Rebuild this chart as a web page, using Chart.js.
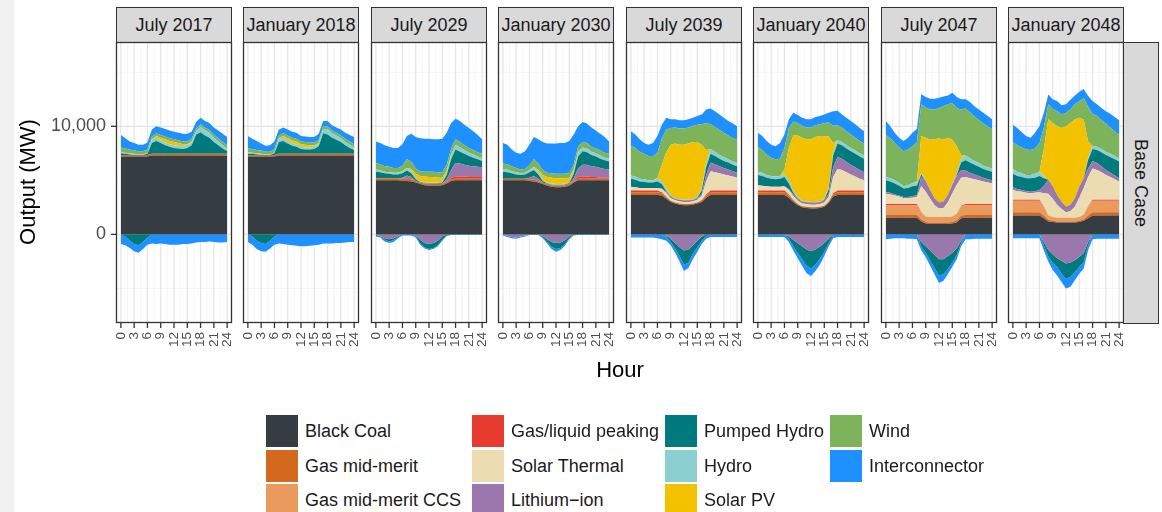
<!DOCTYPE html>
<html>
<head>
<meta charset="utf-8">
<script src="https://cdn.jsdelivr.net/npm/chart.js@4.4.1/dist/chart.umd.min.js"></script>
<style>
body { margin: 0; width: 1162px; height: 512px; background: #fff; position: relative; overflow: hidden;
  font-family: "Liberation Sans", Arial, sans-serif; }
#band { position: absolute; left: 0; top: 0; width: 14px; height: 512px; background: #f1f1f1; }
canvas { position: absolute; }
.strip { position: absolute; top: 7px; height: 36px; width: 116px; box-sizing: border-box; border: 1px solid #333;
  background: #d9d9d9; color: #1a1a1a; font-size: 18px; line-height: 34px; text-align: center; white-space: nowrap; }
.rstrip { position: absolute; left: 1123px; top: 42px; width: 36px; height: 282px; box-sizing: border-box;
  border: 1px solid #333; background: #d9d9d9; color: #1a1a1a; font-size: 18px; writing-mode: vertical-rl;
  text-align: center; line-height: 34px; }
.ytitle { position: absolute; left: -72px; top: 169px; width: 200px; text-align: center; font-size: 22px;
  line-height: 26px; transform: rotate(-90deg); color: #000; }
.xtitle { position: absolute; left: 520px; top: 357px; width: 200px; text-align: center; font-size: 22px;
  line-height: 26px; color: #000; }
.key { position: absolute; width: 32px; height: 32px; }
.ltext { position: absolute; font-size: 18px; line-height: 32px; color: #1a1a1a; white-space: nowrap; }
</style>
</head>
<body>
<div id="band"></div>
<script>
// hours of the day and axis ticks
const hours = [0,1,2,3,4,5,6,7,8,9,10,11,12,13,14,15,16,17,18,19,20,21,22,23,24];
const hourTicks = [0,3,6,9,12,15,18,21,24];
const outputTicks = [0, 10000];
const outputTickLabels = ['0', '10,000'];

const panels = ['July 2017','January 2018','July 2029','January 2030','July 2039','January 2040','July 2047','January 2048'];
const scenario = 'Base Case';

const fuels = ['Black Coal','Gas mid-merit','Gas mid-merit CCS','Gas/liquid peaking','Solar Thermal',
  'Lithium\u2212ion','Pumped Hydro','Hydro','Solar PV','Wind','Interconnector'];
const fuelColors = ['#353c42','#d2691e','#ea9a5d','#e63b2e','#ecdcb1','#9a78ae','#007a7d','#8ccfd0','#f2c200','#7db35b','#1e90ff'];

// MW by hour, one row per panel (same order as panels)
const blackCoal = [
  [7200,7200,7200,7200,7200,7200,7200,7300,7300,7300,7300,7300,7300,7300,7300,7300,7300,7300,7300,7300,7300,7300,7300,7300,7300],
  [7200,7200,7200,7200,7200,7200,7200,7300,7300,7300,7300,7300,7300,7300,7300,7300,7300,7300,7300,7300,7300,7300,7300,7300,7300],
  [5000,5000,5000,5000,5000,5000,4950,4950,4900,4800,4650,4550,4500,4500,4500,4550,4700,4950,5000,5000,5000,5000,5000,5000,5000],
  [5000,5000,5000,5000,5000,5000,4950,4900,4800,4650,4500,4400,4350,4350,4400,4500,4800,5000,5000,5000,5000,5000,5000,5000,5000],
  [3650,3650,3650,3650,3650,3650,3650,3600,3300,3000,2850,2750,2700,2700,2750,2850,3000,3400,3650,3650,3650,3650,3650,3650,3650],
  [3650,3650,3650,3650,3650,3650,3650,3400,3000,2700,2500,2450,2400,2400,2450,2550,2900,3500,3650,3650,3650,3650,3650,3650,3650],
  [1550,1550,1550,1550,1550,1550,1550,1550,1200,1000,950,950,950,950,950,1000,1100,1500,1550,1550,1550,1550,1550,1550,1550],
  [1750,1750,1750,1750,1750,1750,1750,1500,1200,1150,1100,1100,1100,1100,1100,1150,1250,1500,1750,1750,1750,1750,1750,1750,1750]
];
const gasMidMerit = [
  [150,150,150,150,150,150,150,150,150,150,150,150,150,150,150,150,150,150,150,150,150,150,150,150,150],
  [150,150,150,150,150,150,150,150,150,150,150,150,150,150,150,150,150,150,150,150,150,150,150,150,150],
  [200,200,200,200,200,200,200,200,200,150,150,150,150,150,150,150,150,150,150,150,150,150,150,150,150],
  [150,150,150,150,150,150,150,150,150,150,150,150,150,150,150,150,150,150,150,150,150,150,150,150,150],
  [250,250,250,250,250,250,250,200,150,100,100,100,100,100,100,100,150,200,250,250,250,250,250,250,250],
  [250,250,250,250,250,250,250,200,150,100,100,100,100,100,100,100,150,200,250,250,250,250,250,250,250],
  [250,250,250,250,250,250,250,250,200,150,150,150,150,150,150,150,200,250,250,250,250,250,250,250,250],
  [300,300,300,300,300,300,300,250,150,100,100,100,100,100,100,100,150,250,300,300,300,300,300,300,300]
];
const gasMidMeritCCS = [
  [0,0,0,0,0,0,0,0,0,0,0,0,0,0,0,0,0,0,0,0,0,0,0,0,0],
  [0,0,0,0,0,0,0,0,0,0,0,0,0,0,0,0,0,0,0,0,0,0,0,0,0],
  [0,0,0,0,0,0,0,0,0,0,0,0,0,0,0,0,0,0,0,0,0,0,0,0,0],
  [0,0,0,0,0,0,0,0,0,0,0,0,0,0,0,0,0,0,0,0,0,0,0,0,0],
  [0,0,0,0,0,0,0,0,0,0,0,0,0,0,0,0,0,0,0,0,0,0,0,0,0],
  [0,0,0,0,0,0,0,0,0,0,0,0,0,0,0,0,0,0,0,0,0,0,0,0,0],
  [900,900,900,900,900,900,900,900,600,500,500,500,500,500,500,500,600,850,900,900,900,900,900,900,900],
  [1050,1050,1050,1050,1050,1050,1050,800,400,350,350,350,350,350,350,350,450,800,1050,1050,1050,1050,1050,1050,1050]
];
const gasLiquidPeaking = [
  [0,0,0,0,0,0,0,0,0,0,0,0,0,0,0,0,0,0,0,0,0,0,0,0,0],
  [0,0,0,0,0,0,0,0,0,0,0,0,0,0,0,0,0,0,0,0,0,0,0,0,0],
  [0,0,0,0,0,0,0,0,0,0,0,0,0,0,0,0,50,150,200,200,200,150,150,150,150],
  [0,0,0,0,0,0,0,0,0,0,0,0,0,0,0,0,50,150,200,200,150,150,100,100,100],
  [150,150,150,150,150,150,150,100,50,0,0,0,0,0,0,0,0,100,150,150,150,150,150,150,150],
  [150,150,150,150,150,150,150,100,50,0,0,0,0,0,0,0,0,100,150,150,150,150,150,150,150],
  [100,100,100,100,100,100,100,100,50,0,0,0,0,0,0,0,0,50,100,100,100,100,100,100,100],
  [100,100,100,100,100,100,100,50,0,0,0,0,0,0,0,0,0,50,100,100,100,100,100,100,100]
];
const solarThermal = [
  [0,0,0,0,0,0,0,0,0,0,0,0,0,0,0,0,0,0,0,0,0,0,0,0,0],
  [0,0,0,0,0,0,0,0,0,0,0,0,0,0,0,0,0,0,0,0,0,0,0,0,0],
  [0,0,0,0,0,0,0,0,0,0,0,0,0,0,0,0,0,0,0,0,0,0,0,0,0],
  [0,0,0,0,0,0,0,0,0,0,0,0,0,0,0,0,0,0,0,0,0,0,0,0,0],
  [350,300,250,250,250,250,250,300,300,250,200,200,200,200,200,250,400,1200,1800,1700,1600,1500,1400,1300,1200],
  [500,450,400,350,350,350,400,400,350,300,250,250,250,250,250,300,400,1500,2000,1900,1700,1500,1300,1100,950],
  [950,900,800,700,550,550,600,650,2400,2300,1700,1100,800,850,1350,2150,2700,2600,2500,2400,2300,2200,2100,2000,1900],
  [900,800,750,650,600,650,700,1200,2000,1700,1200,800,500,600,1000,1800,2450,2700,2900,2750,2550,2300,2100,1900,1700]
];
const lithiumIon = [
  [0,0,0,0,0,0,0,0,0,0,0,0,0,0,0,0,0,0,0,0,0,0,0,0,0],
  [0,0,0,0,0,0,0,0,0,0,0,0,0,0,0,0,0,0,0,0,0,0,0,0,0],
  [0,0,0,0,0,0,100,300,200,0,0,0,0,0,0,0,200,700,1250,1200,1100,1050,1000,950,900],
  [0,0,0,0,0,0,150,350,200,0,0,0,0,0,0,0,200,800,1100,1100,1000,950,900,800,750],
  [0,0,0,0,0,0,0,50,100,150,150,150,150,150,150,150,200,600,800,750,650,600,550,500,450],
  [0,0,0,0,0,0,0,100,150,200,200,200,200,200,200,200,300,900,1100,1050,950,900,850,800,750],
  [150,150,100,100,100,100,150,150,900,1000,800,650,550,600,700,800,800,700,600,500,450,400,350,300,300],
  [250,200,150,150,150,150,200,700,1300,1150,900,700,500,600,800,1000,900,800,700,650,550,450,400,350,300]
];
const pumpedHydro = [
  [150,100,50,0,0,0,100,1000,1200,1000,800,650,550,500,450,550,800,1800,2000,1700,1500,1100,800,500,250],
  [100,100,50,0,0,0,150,1100,1200,950,750,650,450,400,400,450,700,1900,1800,1500,1300,1100,800,550,350],
  [600,550,450,400,350,350,400,450,350,150,50,50,50,50,50,100,400,1000,1250,1100,1000,900,800,700,600],
  [650,600,500,400,350,400,500,550,400,150,50,50,50,50,50,100,400,1100,1250,1150,1050,950,850,800,750],
  [750,700,600,550,500,500,600,400,100,50,0,0,0,0,0,50,300,700,800,750,700,650,650,600,600],
  [950,900,800,750,700,750,850,500,150,50,0,0,0,0,0,50,400,1100,1250,1250,1250,1250,1250,1250,1250],
  [1100,1050,1000,900,800,850,900,900,200,0,0,0,0,0,0,0,100,700,950,950,900,850,800,800,800],
  [1250,1200,1200,1200,1250,1250,1300,700,0,0,0,0,0,0,0,0,0,800,1100,1200,1300,1400,1450,1500,1550]
];
const hydro = [
  [150,100,100,100,50,50,100,300,300,250,250,250,250,250,250,250,300,300,500,500,450,400,350,300,250],
  [150,100,100,100,50,50,100,300,300,250,250,250,200,200,200,200,250,400,500,400,400,350,300,300,250],
  [200,200,150,150,150,150,200,200,200,150,100,100,100,100,100,100,200,400,450,400,350,300,300,250,250],
  [250,250,200,200,150,150,200,250,200,150,100,100,100,100,100,100,200,400,350,350,300,300,300,250,250],
  [300,300,250,250,200,200,250,300,200,100,50,50,50,50,50,100,200,400,450,400,350,350,300,300,300],
  [300,300,250,250,250,250,300,300,200,100,50,50,50,50,50,100,200,350,300,300,300,300,300,300,300],
  [300,300,300,250,200,250,300,300,100,50,0,0,0,0,0,50,150,400,450,400,350,350,300,300,300],
  [450,400,350,300,300,350,400,200,0,0,0,0,0,0,0,0,0,200,300,300,300,300,300,300,300]
];
const solarPV = [
  [0,0,0,0,0,0,0,50,150,250,300,300,300,250,200,100,50,0,0,0,0,0,0,0,0],
  [0,0,0,0,0,0,0,50,150,250,250,250,250,250,200,150,50,0,0,0,0,0,0,0,0],
  [0,0,0,0,0,0,0,50,200,350,450,500,500,500,450,350,200,50,0,0,0,0,0,0,0],
  [0,0,0,0,0,0,0,50,200,400,500,550,550,550,500,400,200,50,0,0,0,0,0,0,0],
  [0,0,0,0,0,0,100,1500,3400,4650,5050,5050,5100,5200,5300,5050,4050,1200,0,0,0,0,0,0,0],
  [0,0,0,0,0,0,400,3000,5100,5700,5850,5750,5800,6000,6050,5800,4700,800,0,0,0,0,0,0,0],
  [0,0,0,0,0,0,0,100,3450,3950,4650,5450,5950,5700,5300,4100,2500,300,0,0,0,0,0,0,0],
  [0,0,0,0,0,0,0,2500,5600,5850,6350,6800,7450,7550,7300,6400,5400,1500,0,0,0,0,0,0,0]
];
const wind = [
  [400,400,350,300,300,300,300,250,250,250,250,250,250,250,250,250,250,250,250,250,250,300,300,300,300],
  [350,350,300,300,250,250,300,250,250,250,250,250,250,250,250,250,250,250,250,250,250,250,300,300,300],
  [600,550,500,500,450,450,500,800,700,500,450,450,500,500,500,500,550,550,500,500,450,450,400,400,400],
  [500,500,450,400,350,350,450,700,600,450,400,400,400,400,400,400,450,500,500,500,450,450,450,450,450],
  [2750,2650,2500,2350,2250,2250,2300,2400,2100,1550,1500,1500,1500,1500,1500,1600,1900,2500,2300,2300,2300,2250,2200,2150,2150],
  [2300,2100,1900,1700,1600,1600,2000,1800,1300,1150,1100,1100,1100,1100,1100,1200,1300,1600,1400,1350,1300,1250,1200,1150,1100],
  [3900,3700,3450,3300,3250,3300,3400,3600,2950,2800,2800,2750,2800,3100,3100,3400,3550,4200,4350,4250,4100,4000,3900,3800,3600],
  [2500,2450,2400,2350,2300,2350,2600,2000,1400,1300,1400,1250,1250,1250,1400,1550,2000,3200,2950,2850,2700,2600,2450,2300,2150]
];
const interconnector = [
  [1150,950,750,700,600,600,650,650,650,700,700,700,700,700,700,700,650,600,600,600,650,650,700,750,750],
  [1150,950,850,650,550,600,700,550,550,550,550,550,500,500,500,500,600,500,500,500,500,550,550,600,650],
  [2000,1950,1950,1850,1850,1850,2000,2150,2550,2900,3050,3050,3050,3000,3050,3100,2950,2350,1900,1950,1900,1850,1750,1600,1350],
  [1900,1800,1550,1400,1450,1650,1900,2050,2250,2600,2700,2750,2800,2850,2850,3000,2800,1850,1850,1800,1800,1650,1550,1450,1150],
  [1350,1250,1150,1000,1050,1200,1550,1300,1100,800,750,750,750,750,750,800,900,1250,1450,1450,1450,1400,1350,1350,1250],
  [1300,1300,1250,1200,1200,1450,1250,850,800,750,750,750,750,750,750,800,900,1350,1350,1200,1250,1250,1250,1200,1150],
  [1300,1100,950,900,950,1100,1250,1250,950,950,1000,1000,950,900,800,950,1000,950,850,950,950,950,1000,950,950],
  [1600,1600,1400,1250,1150,1450,1600,1350,900,900,950,850,800,900,800,850,850,1000,1200,1100,1100,1150,1250,1300,1350]
];

// charging / pumping / exports (negative MW)
const lithiumIonCharging = [
  [0,0,0,0,0,0,0,0,0,0,0,0,0,0,0,0,0,0,0,0,0,0,0,0,0],
  [0,0,0,0,0,0,0,0,0,0,0,0,0,0,0,0,0,0,0,0,0,0,0,0,0],
  [0,-150,-350,-450,-350,-150,0,0,0,-100,-500,-800,-900,-800,-600,-200,0,0,0,0,0,0,0,0,0],
  [0,-150,-250,-300,-200,-100,0,0,0,-150,-450,-700,-800,-750,-550,-200,0,0,0,0,0,0,0,0,0],
  [0,0,0,0,0,0,0,0,-100,-400,-800,-1200,-1500,-1400,-1000,-600,-200,0,0,0,0,0,0,0,0],
  [0,0,0,0,0,0,0,-200,-500,-800,-1100,-1400,-1550,-1400,-1150,-800,-400,0,0,0,0,0,0,0,0],
  [0,0,0,0,0,0,0,0,-700,-1100,-1500,-1900,-2300,-2300,-2000,-1700,-1300,-600,0,0,0,0,0,0,0],
  [0,0,0,0,0,0,0,-700,-1450,-1850,-2200,-2450,-2700,-2600,-2400,-2100,-1750,-700,0,0,0,0,0,0,0]
];
const pumpedHydroPumping = [
  [0,-200,-600,-900,-1000,-700,-300,0,0,0,0,0,0,0,0,0,0,0,0,0,0,0,0,0,0],
  [0,-200,-600,-800,-900,-600,-200,0,0,0,0,0,0,0,0,0,0,0,0,0,0,0,0,0,0],
  [0,0,-150,-200,-200,-100,0,0,0,-100,-300,-400,-450,-450,-400,-300,-100,0,0,0,0,0,0,0,0],
  [0,0,0,0,0,0,0,0,0,-100,-250,-450,-550,-500,-350,-150,-50,0,0,0,0,0,0,0,0],
  [0,0,0,0,0,0,0,-50,-100,-300,-500,-800,-1300,-1200,-800,-600,-400,-150,0,0,0,0,0,0,0],
  [0,0,0,0,0,0,0,-200,-600,-900,-1200,-1500,-1600,-1400,-1100,-800,-400,-100,0,0,0,0,0,0,0],
  [0,0,0,0,0,0,0,0,-400,-600,-900,-1200,-1500,-1400,-1200,-900,-600,-200,0,0,0,0,0,0,0],
  [0,0,0,0,0,0,0,-300,-600,-800,-800,-1200,-1400,-1350,-1100,-900,-800,-300,0,0,0,0,0,0,0]
];
const interconnectorExport = [
  [-900,-800,-650,-650,-700,-650,-650,-850,-900,-850,-900,-950,-950,-950,-900,-900,-850,-750,-700,-700,-650,-700,-750,-750,-700],
  [-700,-750,-750,-750,-700,-700,-750,-850,-900,-950,-1000,-1050,-1100,-1100,-1050,-1000,-950,-850,-850,-850,-800,-800,-750,-700,-700],
  [-200,-150,-150,-150,-150,-100,-100,-100,-100,-100,-150,-100,-100,-100,-100,-100,-50,-50,-50,-50,-50,-50,-50,-50,-50],
  [-100,-100,-100,-100,-100,-100,-50,-50,-50,-100,-150,-200,-250,-200,-150,-100,-50,-50,-50,-50,-50,-50,-50,-50,-50],
  [-300,-300,-300,-300,-300,-300,-350,-400,-400,-300,-400,-500,-600,-500,-500,-400,-300,-250,-250,-250,-250,-250,-250,-250,-250],
  [-250,-250,-250,-250,-250,-250,-250,-300,-400,-500,-600,-700,-700,-600,-550,-400,-300,-250,-250,-250,-250,-250,-250,-250,-250],
  [-450,-400,-350,-350,-350,-400,-400,-450,-400,-400,-500,-600,-700,-600,-500,-400,-400,-300,-450,-450,-400,-400,-400,-400,-400],
  [-350,-350,-350,-350,-350,-350,-350,-500,-450,-650,-800,-750,-900,-900,-750,-650,-600,-450,-450,-400,-400,-400,-400,-400,-400]
];

const positiveSeries = [blackCoal, gasMidMerit, gasMidMeritCCS, gasLiquidPeaking, solarThermal,
  lithiumIon, pumpedHydro, hydro, solarPV, wind, interconnector];
// negative series stacked downward from zero, with the fuel index they share a colour with
const negativeSeries = [[lithiumIonCharging, 5], [pumpedHydroPumping, 6], [interconnectorExport, 10]];

// layout of the facets
const panelLeft = [116, 243, 371, 498, 626, 753, 881, 1008];
const panelTop = 42, panelW = 116, panelH = 281;
const FONT = '"Liberation Sans", Arial, sans-serif';

const facetPlugin = {
  id: 'facet',
  beforeDatasetsDraw(chart) {
    const {ctx, chartArea: a, scales: {x, y}} = chart;
    ctx.save();
    const vline = h => { const px = x.getPixelForValue(h); ctx.beginPath(); ctx.moveTo(px, a.top); ctx.lineTo(px, a.bottom); ctx.stroke(); };
    const hline = v => { const py = y.getPixelForValue(v); ctx.beginPath(); ctx.moveTo(a.left, py); ctx.lineTo(a.right, py); ctx.stroke(); };
    ctx.strokeStyle = '#f0f0f0';
    ctx.lineWidth = 0.7;
    for (let k = 0; k < hourTicks.length - 1; k++) vline((hourTicks[k] + hourTicks[k + 1]) / 2);
    [-5000, 5000, 15000].forEach(hline);
    ctx.strokeStyle = '#e4e4e4';
    ctx.lineWidth = 1.2;
    hourTicks.forEach(vline);
    outputTicks.forEach(hline);
    ctx.restore();
  },
  afterDraw(chart, args, opts) {
    const {ctx, chartArea: a, scales: {x, y}} = chart;
    ctx.save();
    ctx.strokeStyle = '#333333';
    ctx.lineWidth = 1.3;
    ctx.strokeRect(Math.round(a.left) + 0.5, Math.round(a.top) + 0.5, Math.round(a.right - a.left) - 1, Math.round(a.bottom - a.top) - 1);
    // x ticks and labels
    ctx.fillStyle = '#4d4d4d';
    ctx.font = '13.5px ' + FONT;
    ctx.textAlign = 'right';
    ctx.textBaseline = 'middle';
    hourTicks.forEach(h => {
      const px = x.getPixelForValue(h);
      ctx.beginPath(); ctx.moveTo(px, a.bottom); ctx.lineTo(px, a.bottom + 5); ctx.stroke();
      ctx.save();
      ctx.translate(px, a.bottom + 9);
      ctx.rotate(-Math.PI / 2);
      ctx.fillText(String(h), 0, 0);
      ctx.restore();
    });
    if (opts.yLabels) {
      ctx.font = '18px ' + FONT;
      ctx.textAlign = 'right';
      outputTicks.forEach((v, k) => {
        const py = y.getPixelForValue(v);
        ctx.beginPath(); ctx.moveTo(a.left - 5, py); ctx.lineTo(a.left, py); ctx.stroke();
        ctx.fillText(outputTickLabels[k], a.left - 10, py);
      });
    }
    ctx.restore();
  }
};

panels.forEach((title, i) => {
  const strip = document.createElement('div');
  strip.className = 'strip';
  strip.style.left = panelLeft[i] + 'px';
  strip.textContent = title;
  document.body.appendChild(strip);

  const padL = i === 0 ? 80 : 6, padR = 6, padT = 2, padB = 40;
  const cv = document.createElement('canvas');
  cv.width = panelW + padL + padR;
  cv.height = panelH + padT + padB;
  cv.style.left = (panelLeft[i] - padL) + 'px';
  cv.style.top = (panelTop - padT) + 'px';
  document.body.appendChild(cv);

  const toPoints = row => hours.map((h, j) => ({x: h, y: row[j]}));
  const datasets = positiveSeries.map((s, k) => ({
    label: fuels[k], data: toPoints(s[i]), stack: 'pos',
    fill: k === 0 ? 'origin' : '-1',
    backgroundColor: fuelColors[k], borderColor: 'rgba(0,0,0,0)', borderWidth: 0, pointRadius: 0
  }));
  negativeSeries.forEach(([s, c], k) => datasets.push({
    label: fuels[c], data: toPoints(s[i]), stack: 'neg',
    fill: k === 0 ? 'origin' : '-1',
    backgroundColor: fuelColors[c], borderColor: 'rgba(0,0,0,0)', borderWidth: 0, pointRadius: 0
  }));

  new Chart(cv, {
    type: 'line',
    data: {datasets},
    options: {
      responsive: false,
      animation: false,
      events: [],
      layout: {padding: {left: padL, right: padR, top: padT, bottom: padB}},
      scales: {
        x: {type: 'linear', min: -1.1, max: 25.1, display: false},
        y: {min: -8200, max: 17800, stacked: true, display: false}
      },
      plugins: {legend: {display: false}, tooltip: {enabled: false}, facet: {yLabels: i === 0}}
    },
    plugins: [facetPlugin]
  });
});

const rs = document.createElement('div');
rs.className = 'rstrip';
rs.textContent = scenario;
document.body.appendChild(rs);

const yt = document.createElement('div');
yt.className = 'ytitle';
yt.textContent = 'Output (MW)';
document.body.appendChild(yt);

const xt = document.createElement('div');
xt.className = 'xtitle';
xt.textContent = 'Hour';
document.body.appendChild(xt);

// legend: 3 rows, filled column by column
const keyX = [266, 472, 665, 830];
const keyY = [415, 449.5, 484];
fuels.forEach((name, k) => {
  const col = Math.floor(k / 3), row = k % 3;
  const key = document.createElement('div');
  key.className = 'key';
  key.style.left = keyX[col] + 'px';
  key.style.top = keyY[row] + 'px';
  key.style.background = fuelColors[k];
  document.body.appendChild(key);
  const t = document.createElement('div');
  t.className = 'ltext';
  t.style.left = (keyX[col] + 39) + 'px';
  t.style.top = keyY[row] + 'px';
  t.textContent = name;
  document.body.appendChild(t);
});
</script>
</body>
</html>
